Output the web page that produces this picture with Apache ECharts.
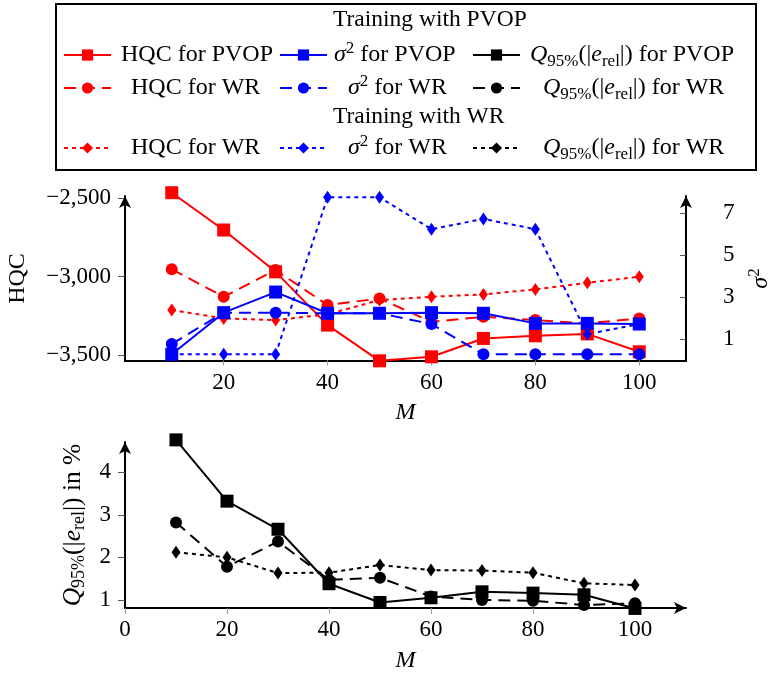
<!DOCTYPE html>
<html>
<head>
<meta charset="utf-8">
<title>HQC / sigma2 / Q95</title>
<style>
  html, body { margin: 0; padding: 0; background: #fff; }
  #chart { width: 778px; height: 673px; }
</style>
</head>
<body>
<div id="chart"></div>
<script src="https://cdn.jsdelivr.net/npm/echarts@6/dist/echarts.min.js"></script>
<script>
// number of training points M
var M = [10, 20, 30, 40, 50, 60, 70, 80, 90, 100];
// training with PVOP
var hqcPvop = [-2464, -2702, -2969, -3309, -3537, -3511, -3394, -3377, -3365, -3479];
var hqcWr = [-2953, -3128, -2958, -3181, -3139, -3288, -3256, -3277, -3298, -3266];
var s2Pvop = [0.29, 2.27, 3.25, 2.24, 2.24, 2.27, 2.24, 1.76, 1.76, 1.73];
var s2Wr = [0.78, 2.27, 2.27, 2.24, 2.24, 1.73, 0.29, 0.29, 0.29, 0.29];
var qPvop = [4.76, 3.32, 2.66, 1.38, 0.94, 1.05, 1.19, 1.16, 1.12, 0.80];
var qWr = [2.82, 1.78, 2.37, 1.47, 1.52, 1.08, 1.00, 0.98, 0.88, 0.92];
// training with WR
var hqcWrW = [-3213, -3266, -3277, -3240, -3149, -3128, -3113, -3081, -3039, -3000];
var s2WrW = [0.29, 0.29, 0.29, 7.76, 7.76, 6.24, 6.73, 6.24, 1.25, 1.73];
var qWrW = [2.12, 2.00, 1.63, 1.64, 1.82, 1.70, 1.69, 1.64, 1.39, 1.35];
// tick labels
var xTicksTop = [20, 40, 60, 80, 100];
var xTicksBottom = [0, 20, 40, 60, 80, 100];
var hqcTicks = [-3500, -3000, -2500];
var s2Ticks = [1, 3, 5, 7];
var qTicks = [1, 2, 3, 4];

var FONT = 'Liberation Serif';
var RED = '#ff0000', BLUE = '#0000ff', BLACK = '#000000';
var DASH = [12, 7], DOT = [4, 4];

function pairs(ys) {
	return M.map(function (m, i) { return [m, ys[i]]; });
}

// rich styles for math-ish text (italic, sub- and superscripts)
function rich(fs) {
	var small = Math.round(fs * 0.69);
	return {
		n: { fontFamily: FONT, fontSize: fs, color: '#000' },
		i: { fontFamily: FONT, fontSize: fs, fontStyle: 'italic', color: '#000' },
		sup: { fontFamily: FONT, fontSize: small, color: '#000', verticalAlign: 'top', lineHeight: small + 2 },
		sub: { fontFamily: FONT, fontSize: small, color: '#000', verticalAlign: 'bottom', lineHeight: small + 2 },
		p: { fontFamily: FONT, fontSize: fs, width: 0 }
	};
}

var qText = '{i|Q}{sub|95%}{n|(|}{i|e}{sub|rel}{n||)';
var labels = {
	hqcP: '{n|HQC for PVOP}',
	s2P: '{i|σ}{sup|2}{n| for PVOP}',
	qP: qText + ' for PVOP}',
	hqcW: '{n|HQC for WR}',
	s2W: '{i|σ}{sup|2}{n| for WR}',
	qW: qText + ' for WR}',
	hqcWW: '{n|HQC for WR}',
	s2WW: '{i|σ}{sup|2}{n| for WR}',
	qWW: qText + ' for WR}'
};

function line(name, ys, xi, yi, color, dash, symbol, size) {
	return {
		name: name,
		type: 'line',
		xAxisIndex: xi,
		yAxisIndex: yi,
		data: pairs(ys),
		clip: false,
		symbol: symbol,
		symbolSize: size,
		showAllSymbol: true,
		lineStyle: { color: color, width: 2, type: dash },
		itemStyle: { color: color, borderWidth: 0 },
		emphasis: { disabled: true },
		animation: false
	};
}

var SQ = 13, CI = 12, DI = [9, 13];
var series = [
	line('hqcP', hqcPvop, 0, 0, RED, 'solid', 'rect', SQ),
	line('hqcW', hqcWr, 0, 0, RED, DASH, 'circle', CI),
	line('hqcWW', hqcWrW, 0, 0, RED, DOT, 'diamond', DI),
	line('s2WW', s2WrW, 0, 1, BLUE, DOT, 'diamond', DI),
	line('s2W', s2Wr, 0, 1, BLUE, DASH, 'circle', CI),
	line('s2P', s2Pvop, 0, 1, BLUE, 'solid', 'rect', SQ),
	line('qWW', qWrW, 1, 2, BLACK, DOT, 'diamond', DI),
	line('qW', qWr, 1, 2, BLACK, DASH, 'circle', CI),
	line('qP', qPvop, 1, 2, BLACK, 'solid', 'rect', SQ)
];

// legend grid: rows (centre y), columns (icon left), text padding after icon
var legendRows = [55, 88, 148];
var legendCols = [63, 279, 472];
var legendNames = [['hqcP', 's2P', 'qP'], ['hqcW', 's2W', 'qW'], ['hqcWW', 's2WW', 'qWW']];
var legendPads = [[5, 2, 5], [15, 16, 18], [15, 16, 18]];
var LEG_FS = 24;
var legends = [];
legendNames.forEach(function (row, r) {
	row.forEach(function (name, c) {
		var rs = rich(LEG_FS);
		rs.p.width = legendPads[r][c];
		legends.push({
			data: [name],
			left: legendCols[c],
			top: legendRows[r] - 15,
			padding: 0,
			itemWidth: 47,
			itemHeight: 14,
			selectedMode: false,
			formatter: function (n) { return '{p| }' + labels[n]; },
			textStyle: { fontFamily: FONT, fontSize: LEG_FS, color: '#000', lineHeight: 30, rich: rs }
		});
	});
});

var axisLine = function (arrow) {
	return {
		show: true,
		lineStyle: { color: '#000', width: 2 },
		symbol: arrow ? ['none', 'arrow'] : 'none',
		symbolSize: [9, 12]
	};
};
var labelStyle = { fontFamily: FONT, fontSize: 23, color: '#000' };

function hqcFmt(v) {
	var s = Math.abs(v).toString();
	s = s.replace(/\B(?=(\d{3})+(?!\d))/g, ',');
	return (v < 0 ? '\u2212' : '') + s;
}

var option = {
	backgroundColor: '#fff',
	animation: false,
	legend: legends,
	grid: [
		{ left: 125, top: 196, width: 561, height: 165, outerBoundsMode: 'none', containLabel: false },
		{ left: 125, top: 442, width: 561, height: 166, outerBoundsMode: 'none', containLabel: false }
	],
	xAxis: [
		{
			type: 'value', gridIndex: 0, min: 1, max: 109,
			name: 'M', nameLocation: 'middle', nameGap: 40,
			nameTextStyle: { fontFamily: FONT, fontSize: 24, fontStyle: 'italic', color: '#000' },
			axisLine: axisLine(false),
			axisTick: { show: true, length: 5, lineStyle: { color: '#999' }, customValues: xTicksTop },
			axisLabel: Object.assign({ margin: 10, customValues: xTicksTop }, labelStyle),
			splitLine: { show: false }
		},
		{
			type: 'value', gridIndex: 1, min: 0, max: 110,
			name: 'M', nameLocation: 'middle', nameGap: 41,
			nameTextStyle: { fontFamily: FONT, fontSize: 24, fontStyle: 'italic', color: '#000' },
			axisLine: axisLine(true),
			axisTick: { show: true, length: 6, lineStyle: { color: '#999' }, customValues: xTicksBottom },
			axisLabel: Object.assign({ margin: 10, customValues: xTicksBottom }, labelStyle),
			splitLine: { show: false }
		}
	],
	yAxis: [
		{
			type: 'value', gridIndex: 0, position: 'left', min: -3538, max: -2485,
			name: 'HQC', nameLocation: 'middle', nameGap: 95, nameRotate: 90,
			nameTextStyle: { fontFamily: FONT, fontSize: 24, color: '#000' },
			axisLine: axisLine(true),
			axisTick: { show: true, length: 7, lineStyle: { color: '#555' }, customValues: hqcTicks },
			axisLabel: Object.assign({ margin: 14, customValues: hqcTicks, formatter: hqcFmt }, labelStyle),
			splitLine: { show: false }
		},
		{
			type: 'value', gridIndex: 0, position: 'right', min: -0.03, max: 7.82,
			name: '{i|σ}{sup|2}', nameLocation: 'middle', nameGap: 60, nameRotate: 90,
			nameTextStyle: { fontFamily: FONT, fontSize: 24, color: '#000', lineHeight: 30, rich: rich(24) },
			axisLine: axisLine(true),
			axisTick: { show: true, length: 6, inside: true, lineStyle: { color: '#555' }, customValues: s2Ticks },
			axisLabel: Object.assign({ margin: 37, customValues: s2Ticks }, labelStyle),
			splitLine: { show: false }
		},
		{
			type: 'value', gridIndex: 1, position: 'left', min: 0.81, max: 4.71,
			name: qText + ' in %}', nameLocation: 'middle', nameGap: 37, nameRotate: 90,
			nameTextStyle: { fontFamily: FONT, fontSize: 25.5, color: '#000', lineHeight: 30, rich: rich(25.5) },
			axisLine: axisLine(true),
			axisTick: { show: true, length: 7, lineStyle: { color: '#555' }, customValues: qTicks },
			axisLabel: Object.assign({ margin: 14, customValues: qTicks }, labelStyle),
			splitLine: { show: false }
		}
	],
	graphic: [
		{
			type: 'rect', left: 55, top: 3, z: -1, silent: true,
			shape: { width: 700, height: 166 },
			style: { fill: '#fff', stroke: '#000', lineWidth: 2 }
		},
		{
			type: 'text', left: 333, top: 8, silent: true,
			style: { text: 'Training with PVOP', fontFamily: FONT, fontSize: 23.5, fill: '#000' }
		},
		{
			type: 'text', left: 333, top: 105, silent: true,
			style: { text: 'Training with WR', fontFamily: FONT, fontSize: 23.5, fill: '#000' }
		}
	],
	series: series
};

var chart = echarts.init(document.getElementById('chart'), null, { renderer: 'canvas' });
chart.setOption(option);
</script>
</body>
</html>
